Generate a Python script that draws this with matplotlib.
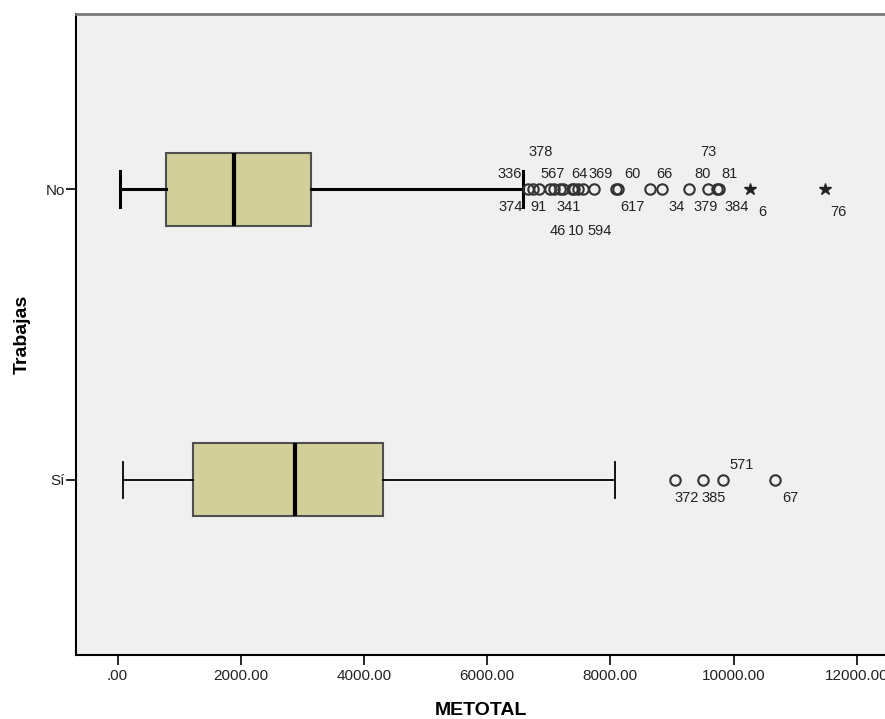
import matplotlib
matplotlib.use("Agg")
import matplotlib.pyplot as plt

plt.rcParams['font.family'] = ['Liberation Sans', 'DejaVu Sans']

# categorias (de abajo hacia arriba)
groups = ["Sí", "No"]

# resumen de cajas: minimo bigote, Q1, mediana, Q3, maximo bigote
whislo = [89, 40]
q1 = [1226, 787]
med = [2881, 1891]
q3 = [4310, 3141]
whishi = [8076, 6583]

# valores atipicos (circulos) y extremos (estrellas)
outliers_si = [9050, 9505, 9830, 10674]
outliers_no = [6664, 6745, 6843, 7021, 7086, 7183, 7232, 7378, 7411, 7476,
               7557, 7735, 8093, 8125, 8644, 8839, 9278, 9586, 9732, 9765]
extremes_si = []
extremes_no = [10268, 11485]

# etiquetas de casos: texto, valor, nivel (+ arriba, - abajo)
labels_si = [("571", 10130, 1), ("372", 9240, -1), ("385", 9670, -1), ("67", 10920, -1)]
labels_no = [("336", 6372, 1), ("378", 6875, 2), ("567", 7070, 1), ("64", 7492, 1),
             ("369", 7849, 1), ("60", 8352, 1), ("66", 8872, 1), ("80", 9505, 1),
             ("73", 9586, 2), ("81", 9927, 1),
             ("374", 6388, -1), ("91", 6826, -1), ("341", 7329, -1), ("617", 8352, -1),
             ("34", 9083, -1), ("379", 9554, -1), ("384", 10057, -1), ("6", 10463, -1.2),
             ("76", 11697, -1.2),
             ("46", 7151, -2), ("10", 7443, -2), ("594", 7833, -2)]

xticks = [0, 2000, 4000, 6000, 8000, 10000, 12000]
xticklabels = [".00", "2000.00", "4000.00", "6000.00", "8000.00", "10000.00", "12000.00"]

fig = plt.figure(figsize=(8.85, 7.19), dpi=100)
ax = fig.add_axes([76/885, 64/719, 1 - 76/885, (655-14)/719])
ax.set_facecolor("#f0f0f0")

stats = []
for i in range(len(groups)):
    stats.append(dict(med=med[i], q1=q1[i], q3=q3[i], whislo=whislo[i],
                      whishi=whishi[i], fliers=[], label=groups[i]))

bp = ax.bxp(stats, positions=[0, 1], vert=False, widths=0.25, capwidths=0.125,
            patch_artist=True, showfliers=False)
for b in bp["boxes"]:
    b.set_facecolor("#d3cf98")
    b.set_edgecolor("#505050")
    b.set_linewidth(1.5)
for m in bp["medians"]:
    m.set_color("black")
    m.set_linewidth(3)
# el grupo "No" tiene bigotes mas gruesos
lws = [1.3, 2.2]
for i in range(len(groups)):
    for art in bp["whiskers"][2*i:2*i+2] + bp["caps"][2*i:2*i+2]:
        art.set_color("black")
        art.set_linewidth(lws[i])

outs = [outliers_si, outliers_no]
exts = [extremes_si, extremes_no]
labs = [labels_si, labels_no]
for i in range(len(groups)):
    ax.plot(outs[i], [i]*len(outs[i]), "o", mfc="none", mec="#333333", mew=1.5, ms=7.5)
    if exts[i]:
        ax.plot(exts[i], [i]*len(exts[i]), "*", color="#222222", ms=9)
    for txt, xv, lvl in labs[i]:
        if lvl > 0:
            dy = 11 + (lvl - 1) * 16
        else:
            dy = -13 + (lvl + 1) * 17
        ax.annotate(txt, (xv, i), xytext=(0, dy), textcoords="offset points",
                    ha="center", va="center", fontsize=10.5, color="#222222")

ax.set_xlim(-674, 12459)
ax.set_ylim(-0.603, 1.603)
ax.set_yticks([0, 1])
ax.set_yticklabels(groups, fontsize=11, color="#222222")
ax.set_xticks(xticks)
ax.set_xticklabels(xticklabels, fontsize=11, color="#222222")
ax.tick_params(axis="x", length=7, width=1.2, pad=3)
ax.tick_params(axis="y", length=7, width=1.2, pad=1)

ax.set_xlabel("METOTAL", fontsize=14, fontweight="bold", labelpad=14)
ax.set_ylabel("Trabajas", fontsize=14, fontweight="bold")
ax.yaxis.set_label_coords(-0.056, 0.5)

ax.spines["top"].set_color("#7a7a7a")
ax.spines["top"].set_linewidth(2)
ax.spines["right"].set_visible(False)
ax.spines["left"].set_linewidth(1.5)
ax.spines["bottom"].set_linewidth(1.5)

fig.savefig("out.png", dpi=100)
